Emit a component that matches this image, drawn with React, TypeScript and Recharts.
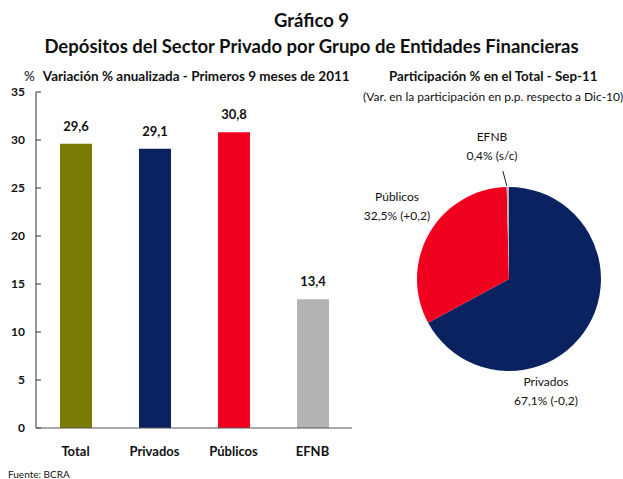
import { BarChart, Bar, XAxis, YAxis, LabelList, PieChart, Pie, Cell } from 'recharts';

const categories = ['Total', 'Privados', 'Públicos', 'EFNB'];
const variation = [29.6, 29.1, 30.8, 13.4];
const yTicks = [0, 5, 10, 15, 20, 25, 30, 35];

const pieNames = ['Privados', 'Públicos', 'EFNB'];
const pieShares = [67.1, 32.5, 0.4];
const pieChanges = ['(-0,2)', '(+0,2)', '(s/c)'];

const barColors = ['#7a7a04', '#0b2260', '#f0001e', '#b3b3b3'];
const pieColors = ['#0b2260', '#f0001e', '#b3b3b3'];

const font = 'Lato, "Open Sans", sans-serif';
const fmt = (v: number) => v.toFixed(1).replace('.', ',');

const barData = categories.map((c, i) => ({ name: c, value: variation[i] }));
const pieData = pieNames.map((n, i) => ({ name: n, value: pieShares[i], change: pieChanges[i] }));

// label offsets from pie center
const labelOffsets: Record<string, [number, number]> = {
    Privados: [37, 107],
    Públicos: [-112, -78],
    EFNB: [-17, -138],
};

function PieLabel(props: any) {
    const { cx, cy, outerRadius, midAngle, payload } = props;
    const name = payload.name;
    const [dx, dy] = labelOffsets[name];
    const x = cx + dx;
    const y = cy + dy;
    const RAD = Math.PI / 180;
    const ex = cx + outerRadius * Math.cos(-midAngle * RAD);
    const ey = cy + outerRadius * Math.sin(-midAngle * RAD);
    return (
        <g>
            {name === 'EFNB' && (
                <line x1={ex - 1} y1={ey - 1} x2={ex - 5} y2={ey - 16} stroke="#222" strokeWidth={1} />
            )}
            <text x={x} y={y} textAnchor="middle" fontSize={12} fill="#111" fontFamily={font}>
                {name}
            </text>
            <text x={x} y={y + 19} textAnchor="middle" fontSize={12} fill="#111" fontFamily={font}>
                {fmt(payload.value) + '% ' + payload.change}
            </text>
        </g>
    );
}

export default function App() {
    return (
        <div style={{ position: 'absolute', left: 0, top: 0, width: 623, height: 479, background: '#fff', fontFamily: font, color: '#111' }}>
            <div style={{ position: 'absolute', top: 9, width: 623, textAlign: 'center', fontWeight: 'bold', fontSize: 18.5 }}>
                Gráfico 9
            </div>
            <div style={{ position: 'absolute', top: 35, width: 623, textAlign: 'center', fontWeight: 'bold', fontSize: 18.5 }}>
                Depósitos del Sector Privado por Grupo de Entidades Financieras
            </div>
            <div style={{ position: 'absolute', top: 68, left: 24, fontSize: 13.5, fontWeight: 'bold', whiteSpace: 'nowrap' }}>
                <span style={{ fontWeight: 'normal', marginRight: 8 }}>%</span>
                Variación % anualizada - Primeros 9 meses de 2011
            </div>
            <div style={{ position: 'absolute', top: 68, left: 389, fontSize: 13.3, fontWeight: 'bold', whiteSpace: 'nowrap' }}>
                Participación % en el Total - Sep-11
            </div>
            <div style={{ position: 'absolute', top: 89, left: 363, fontSize: 12, whiteSpace: 'nowrap' }}>
                (Var. en la participación en p.p. respecto a Dic-10)
            </div>
            <div style={{ position: 'absolute', top: 468, left: 8, fontSize: 10 }}>Fuente: BCRA</div>

            <div style={{ position: 'absolute', left: 0, top: 0 }}>
                <BarChart width={360} height={479} data={barData} margin={{ top: 92, right: 8, bottom: 21, left: 0 }} barSize={32}>
                    <YAxis
                        domain={[0, 35]}
                        ticks={yTicks}
                        width={36}
                        tickSize={-5}
                        tickMargin={16}
                        stroke="#333"
                        tick={{ fontSize: 12, fontWeight: 'bold', fill: '#111', fontFamily: font }}
                    />
                    <XAxis
                        dataKey="name"
                        height={30}
                        tickLine={false}
                        tickSize={0}
                        tickMargin={19}
                        stroke="#555"
                        tick={{ fontSize: 13, fontWeight: 'bold', fill: '#111', fontFamily: font }}
                    />
                    <Bar dataKey="value" isAnimationActive={false}>
                        {barData.map((d, i) => (
                            <Cell key={d.name} fill={barColors[i]} />
                        ))}
                        <LabelList
                            dataKey="value"
                            position="top"
                            offset={13}
                            formatter={(v: any) => fmt(Number(v))}
                            style={{ fontSize: 13, fontWeight: 'bold', fill: '#111', fontFamily: font }}
                        />
                    </Bar>
                </BarChart>
            </div>

            <div style={{ position: 'absolute', left: 360, top: 0 }}>
                <PieChart width={263} height={479} margin={{ top: 0, right: 0, bottom: 0, left: 0 }}>
                    <Pie
                        data={pieData}
                        dataKey="value"
                        cx={149}
                        cy={279}
                        outerRadius={92}
                        startAngle={90}
                        endAngle={-270}
                        stroke="none"
                        label={PieLabel}
                        labelLine={false}
                        isAnimationActive={false}
                    >
                        {pieData.map((d, i) => (
                            <Cell key={d.name} fill={pieColors[i]} />
                        ))}
                    </Pie>
                </PieChart>
            </div>
        </div>
    );
}
